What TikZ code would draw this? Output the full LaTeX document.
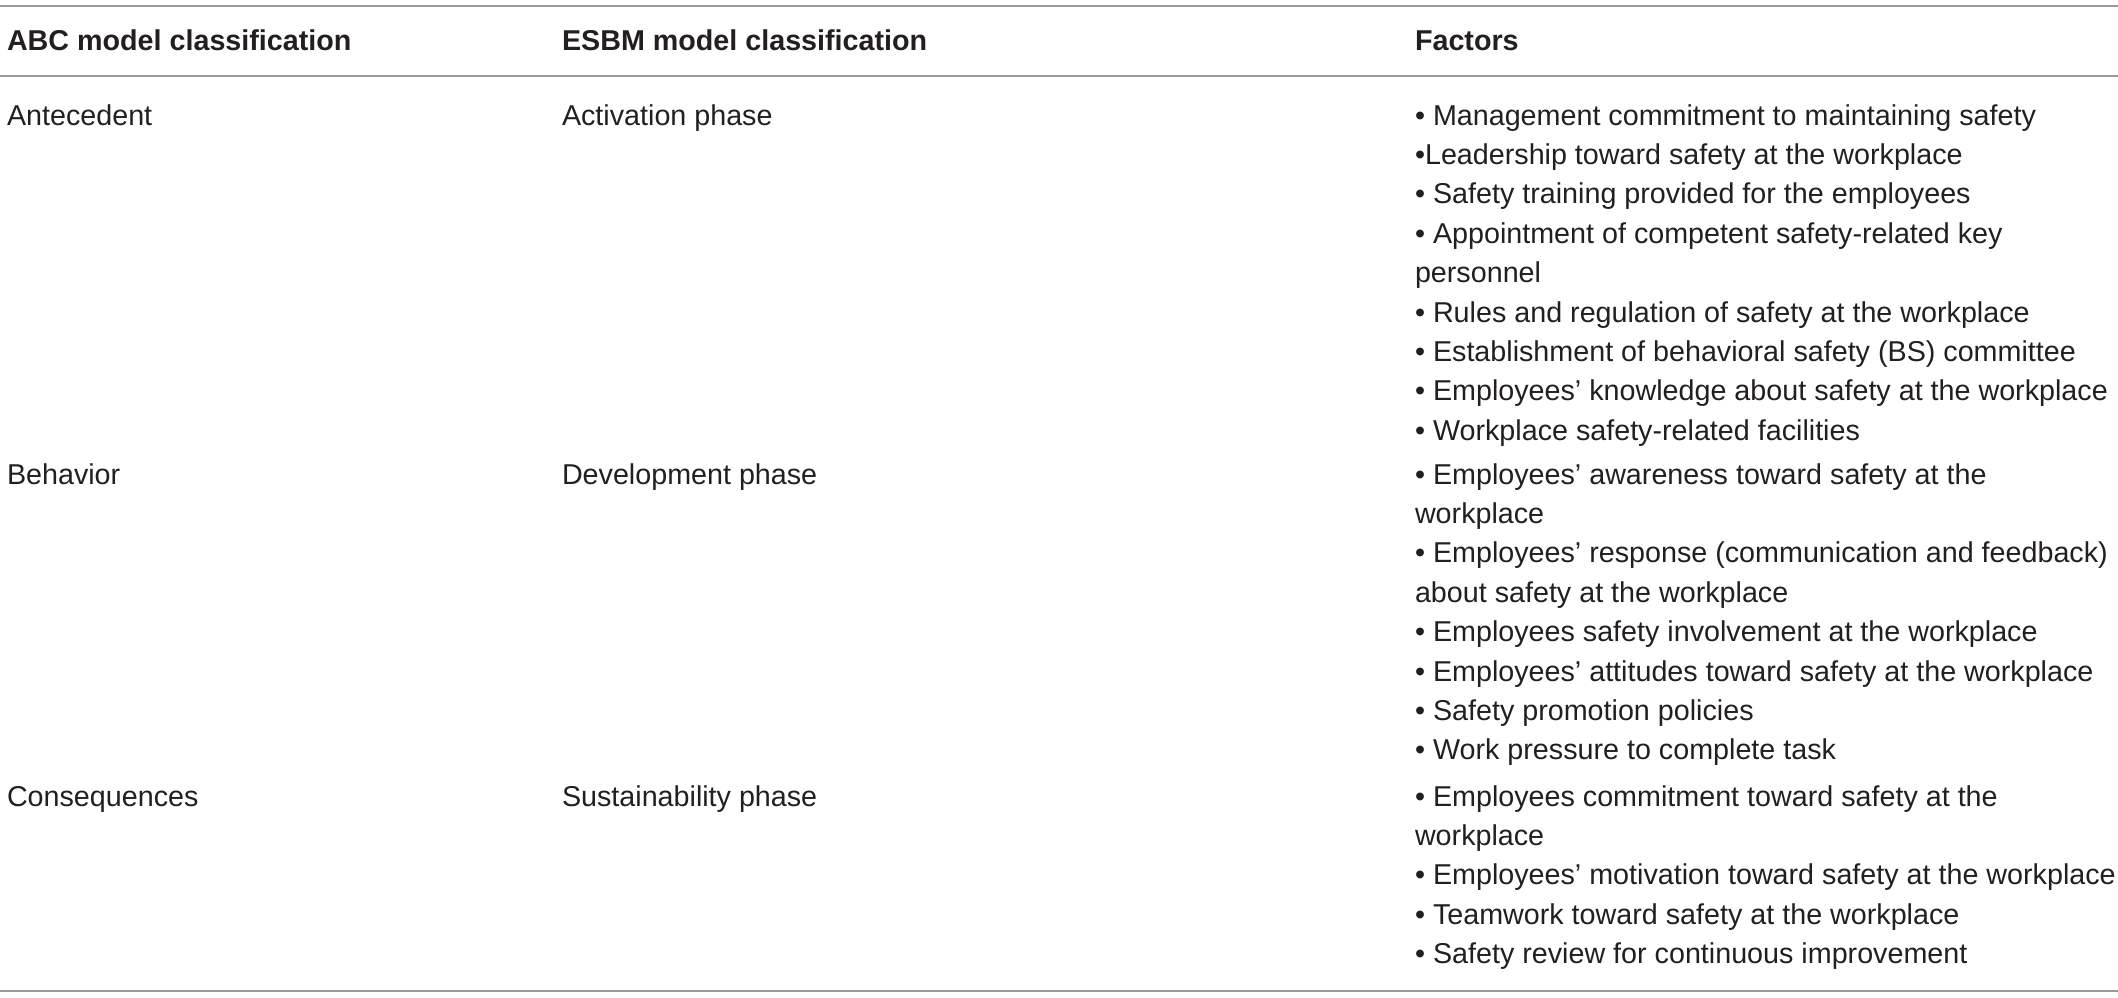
\documentclass[tikz,border=0pt]{standalone}
\usepackage{fontspec}
\setmainfont{Liberation Sans}
\definecolor{rulegray}{HTML}{9A9A9A}
\definecolor{ink}{HTML}{231F20}
\begin{document}
\begin{tikzpicture}[x=1pt,y=-1pt,
  txt/.style={anchor=base west, inner sep=0pt, outer sep=0pt, text=ink,
    font=\fontsize{28.7}{39.4}\selectfont},
  hdr/.style={txt, font=\fontsize{28.7}{39.4}\selectfont\bfseries},
  tablerule/.style={draw=rulegray, line width=1.6pt}]
\useasboundingbox (0,0) rectangle (2118,998);
% rules
\coordinate (r0a) at (0,6);   \coordinate (r0b) at (2118,6);
\coordinate (r1a) at (0,76);  \coordinate (r1b) at (2118,76);
\coordinate (r2a) at (0,991); \coordinate (r2b) at (2118,991);
\draw[tablerule] (r0a) -- (r0b);
\draw[tablerule] (r1a) -- (r1b);
\draw[tablerule] (r2a) -- (r2b);
% header
\node[hdr] (h1) at (7,51) {ABC model classification};
\node[hdr] (h2) at (562,51) {ESBM model classification};
\node[hdr] (h3) at (1415,51) {Factors};
% column 1 and 2
\node[txt] (a1) at (7,125) {Antecedent};
\node[txt] (a2) at (7,484) {Behavior};
\node[txt] (a3) at (7,806) {Consequences};
\node[txt] (e1) at (562,125) {Activation phase};
\node[txt] (e2) at (562,484) {Development phase};
\node[txt] (e3) at (562,806) {Sustainability phase};
% factors
\foreach \t [count=\i] in {
  {• Management commitment to maintaining safety},
  {•Leadership toward safety at the workplace},
  {• Safety training provided for the employees},
  {• Appointment of competent safety-related key},
  {personnel},
  {• Rules and regulation of safety at the workplace},
  {• Establishment of behavioral safety (BS) committee},
  {• Employees’ knowledge about safety at the workplace},
  {• Workplace safety-related facilities}}
  {\node[txt] (fa\i) at (1415,{125+(\i-1)*39.4}) {\t};}
\foreach \t [count=\i] in {
  {• Employees’ awareness toward safety at the},
  {workplace},
  {• Employees’ response (communication and feedback)},
  {about safety at the workplace},
  {• Employees safety involvement at the workplace},
  {• Employees’ attitudes toward safety at the workplace},
  {• Safety promotion policies},
  {• Work pressure to complete task}}
  {\node[txt] (fb\i) at (1415,{484+(\i-1)*39.4}) {\t};}
\foreach \t [count=\i] in {
  {• Employees commitment toward safety at the},
  {workplace},
  {• Employees’ motivation toward safety at the workplace},
  {• Teamwork toward safety at the workplace},
  {• Safety review for continuous improvement}}
  {\node[txt] (fc\i) at (1415,{806+(\i-1)*39.4}) {\t};}
\end{tikzpicture}
\end{document}
